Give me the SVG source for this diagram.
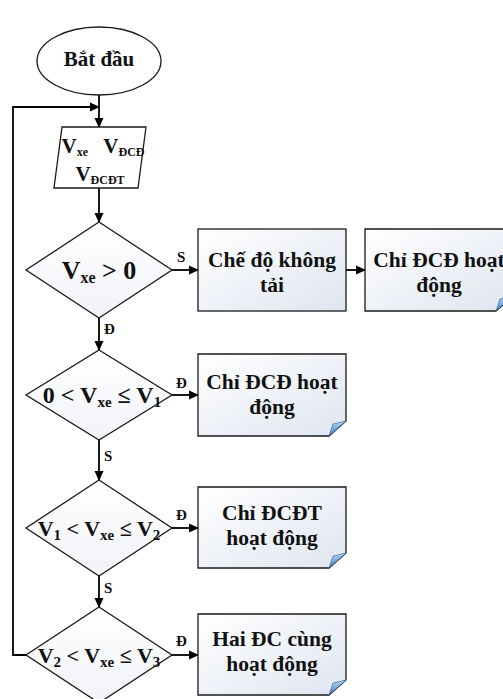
<svg xmlns="http://www.w3.org/2000/svg" width="503" height="699" viewBox="0 0 503 699">
<defs>
<linearGradient id="boxg" x1="0" y1="0" x2="1" y2="1">
<stop offset="0" stop-color="#ffffff"/>
<stop offset="1" stop-color="#dfe5ef"/>
</linearGradient>
<linearGradient id="dg" x1="0" y1="0" x2="0" y2="1">
<stop offset="0" stop-color="#ffffff"/>
<stop offset="1" stop-color="#f1f3f8"/>
</linearGradient>
<linearGradient id="fold" x1="0" y1="0" x2="0" y2="1">
<stop offset="0" stop-color="#bcd6f2"/>
<stop offset="1" stop-color="#3f7fc4"/>
</linearGradient>
<marker id="arr" markerWidth="10" markerHeight="10" refX="9" refY="5" orient="auto" markerUnits="userSpaceOnUse">
<path d="M0,0.5 L10,5 L0,9.5 Z" fill="#000"/>
</marker>
</defs>
<style>
.sh{stroke:#1a1a1a;stroke-width:1.3;}
.box{fill:url(#boxg);stroke:#1a1a1a;stroke-width:1.3;}
.dia{fill:url(#dg);stroke:#1a1a1a;stroke-width:1.3;}
.t{font-family:"Liberation Serif","Times New Roman",serif;font-weight:bold;fill:#111;text-anchor:middle;}
.bt{font-size:21.5px;}
.lb{font-family:"Liberation Serif","Times New Roman",serif;font-weight:bold;fill:#111;font-size:15px;}
.c{fill:none;stroke:#000;stroke-width:1.8;}
.fd{fill:url(#fold);stroke:#2b5f9a;stroke-width:0.6;}
</style>
<rect width="503" height="699" fill="#ffffff"/>

<g id="connectors">
<path class="c" d="M99,95 V127" marker-end="url(#arr)"/>
<path class="c" d="M99,188 V222" marker-end="url(#arr)"/>
<path class="c" d="M172,270 H198" marker-end="url(#arr)"/>
<path class="c" d="M346,270 H365" marker-end="url(#arr)"/>
<path class="c" d="M99,318 V350" marker-end="url(#arr)"/>
<path class="c" d="M172,395 H198" marker-end="url(#arr)"/>
<path class="c" d="M99,440 V480" marker-end="url(#arr)"/>
<path class="c" d="M172,528 H198" marker-end="url(#arr)"/>
<path class="c" d="M99,576 V607" marker-end="url(#arr)"/>
<path class="c" d="M172,655 H198" marker-end="url(#arr)"/>
<path class="c" d="M26,655 H13 V107 H99" marker-end="url(#arr)"/>
<text class="lb" x="177" y="262">S</text>
<text class="lb" x="104" y="334">Đ</text>
<text class="lb" x="176" y="388">Đ</text>
<text class="lb" x="104" y="461">S</text>
<text class="lb" x="176" y="520">Đ</text>
<text class="lb" x="104" y="593">S</text>
<text class="lb" x="176" y="646">Đ</text>
</g>

<g id="start">
<ellipse cx="99" cy="61" rx="62" ry="34" fill="#ffffff" class="sh"/>
<text class="t" x="99" y="66" font-size="21">Bắt đầu</text>
</g>

<g id="input">
<path d="M62,127 H146 L138,188 H54 Z" fill="#ffffff" class="sh"/>
<text class="t" x="103" y="153" font-size="21">V<tspan font-size="12" dy="3">xe</tspan><tspan dy="-3" xml:space="preserve">   V</tspan><tspan font-size="12" dy="3">ĐCĐ</tspan></text>
<text class="t" x="100" y="181" font-size="21">V<tspan font-size="12" dy="3">ĐCĐT</tspan></text>
</g>

<g id="d1">
<path class="dia" d="M99,222 L172,270 L99,318 L26,270 Z"/>
<text class="t" x="99" y="279" font-size="26">V<tspan font-size="16" dy="4">xe</tspan><tspan dy="-4"> &gt; 0</tspan></text>
</g>

<g id="box1">
<rect class="box" x="198" y="229" width="148" height="82"/>
<text class="t bt" x="272" y="267">Chế độ không</text>
<text class="t bt" x="272" y="292">tải</text>
</g>

<g id="box2">
<path class="box" d="M365,229 H513 V296 L496,311 H365 Z"/>
<path class="fd" d="M496,311 L513,296 L500,299 Z"/>
<text class="t bt" x="439" y="267">Chỉ ĐCĐ hoạt</text>
<text class="t bt" x="439" y="292">động</text>
</g>

<g id="d2">
<path class="dia" d="M99,350 L172,395 L99,440 L26,395 Z"/>
<text class="t" x="102" y="403" font-size="24">0 &lt; V<tspan font-size="15" dy="4">xe</tspan><tspan dy="-4"> ≤ V</tspan><tspan font-size="15" dy="4">1</tspan></text>
</g>

<g id="box3">
<path class="box" d="M198,354 H346 V421 L329,436 H198 Z"/>
<path class="fd" d="M329,436 L346,421 L333,424 Z"/>
<text class="t bt" x="272" y="389">Chỉ ĐCĐ hoạt</text>
<text class="t bt" x="272" y="414">động</text>
</g>

<g id="d3">
<path class="dia" d="M99,480 L172,528 L99,576 L26,528 Z"/>
<text class="t" x="99" y="536" font-size="22">V<tspan font-size="15" dy="4">1</tspan><tspan dy="-4"> &lt; V</tspan><tspan font-size="15" dy="4">xe</tspan><tspan dy="-4"> ≤ V</tspan><tspan font-size="15" dy="4">2</tspan></text>
</g>

<g id="box4">
<path class="box" d="M198,487 H346 V553 L329,568 H198 Z"/>
<path class="fd" d="M329,568 L346,553 L333,556 Z"/>
<text class="t bt" x="272" y="520">Chỉ ĐCĐT</text>
<text class="t bt" x="272" y="545">hoạt động</text>
</g>

<g id="d4">
<path class="dia" d="M99,607 L172,655 L99,703 L26,655 Z"/>
<text class="t" x="99" y="663" font-size="22">V<tspan font-size="15" dy="4">2</tspan><tspan dy="-4"> &lt; V</tspan><tspan font-size="15" dy="4">xe</tspan><tspan dy="-4"> ≤ V</tspan><tspan font-size="15" dy="4">3</tspan></text>
</g>

<g id="box5">
<path class="box" d="M198,614 H346 V680 L329,695 H198 Z"/>
<path class="fd" d="M329,695 L346,680 L333,683 Z"/>
<text class="t bt" x="272" y="646">Hai ĐC cùng</text>
<text class="t bt" x="272" y="671">hoạt động</text>
</g>
</svg>
